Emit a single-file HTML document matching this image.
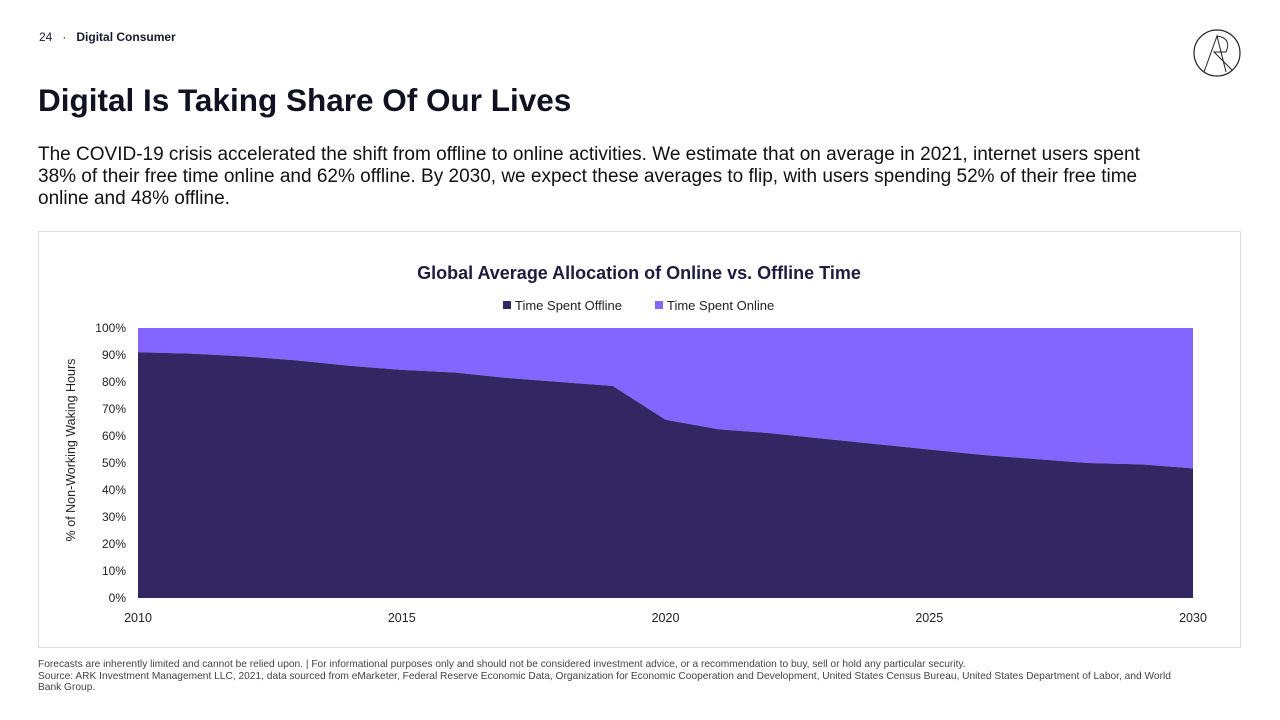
<!DOCTYPE html>
<html><head><meta charset="utf-8"><style>
body{margin:0;width:1280px;height:720px;background:#fff;font-family:"Liberation Sans",sans-serif;color:#1a1a2e;position:relative;overflow:hidden}
.abs{position:absolute}
</style></head><body>
<div class="abs" style="left:39px;top:30px;font-size:12px"><span>24</span><span style="margin:0 10px">·</span><b>Digital Consumer</b></div>
<svg class="abs" style="left:1192px;top:28px" width="50" height="50"><circle cx="25" cy="25" r="23" fill="none" stroke="#222" stroke-width="1.2"/><path d="M12 44 L25 8 L34 44 M25 8 Q40 10 34 24 L22 24 L40 42" fill="none" stroke="#222" stroke-width="1"/></svg>
<div class="abs" style="left:38px;top:82px;font-size:31.5px;font-weight:bold;color:#111122">Digital Is Taking Share Of Our Lives</div>
<div class="abs" style="left:38px;top:144px;width:1135px;font-size:19px;line-height:22px;color:#111">The COVID-19 crisis accelerated the shift from offline to online activities. We estimate that on average in 2021, internet users spent 38% of their free time online and 62% offline. By 2030, we expect these averages to flip, with users spending 52% of their free time online and 48% offline.</div>
<div class="abs" style="left:38px;top:231px;width:1203px;height:417px;border:1px solid #ddd;box-sizing:border-box"></div>
<svg class="abs" id="chart" style="left:0;top:0" width="1280" height="720"></svg>
<div class="abs" style="left:38px;top:659px;width:1210px;font-size:10.2px;line-height:11.5px;color:#444">Forecasts are inherently limited and cannot be relied upon. | For informational purposes only and should not be considered investment advice, or a recommendation to buy, sell or hold any particular security.<br>Source: ARK Investment Management LLC, 2021, data sourced from eMarketer, Federal Reserve Economic Data, Organization for Economic Cooperation and Development, United States Census Bureau, United States Department of Labor, and World<br>Bank Group.</div>
<script>
const years=[2010,2011,2012,2013,2014,2015,2016,2017,2018,2019,2020,2021,2022,2023,2024,2025,2026,2027,2028,2029,2030];
const offline=[91,90.5,89.5,88,86,84.5,83.5,81.5,80,78.5,66,62.5,61,59,57,55,53,51.5,50,49.5,48];
const online=offline.map(v=>100-v);
const yTicks=[0,10,20,30,40,50,60,70,80,90,100];
const xTicks=[2010,2015,2020,2025,2030];
const svg=document.getElementById('chart');const NS='http://www.w3.org/2000/svg';
const X=y=>138+(y-2010)*(1193-138)/20;const Y=p=>598-p*2.7;
function el(t,a,txt){const e=document.createElementNS(NS,t);for(const k in a)e.setAttribute(k,a[k]);if(txt!=null)e.textContent=txt;svg.appendChild(e);return e;}
let onPath='M'+X(2010)+','+Y(100)+' L'+X(2030)+','+Y(100);
for(let i=years.length-1;i>=0;i--)onPath+=' L'+X(years[i])+','+Y(100-online[i]);
const a1=el('path',{d:onPath+'Z',fill:'#8366FF'});


let offPath='M'+X(2010)+','+Y(0);
years.forEach((y,i)=>offPath+=' L'+X(y)+','+Y(offline[i]));
offPath+=' L'+X(2030)+','+Y(0)+'Z';
const a2=el('path',{d:offPath,fill:'#322763'});


yTicks.forEach(t=>{const e=el('text',{x:126,y:Y(t)+4,'text-anchor':'end','font-size':12,fill:'#222'},t+'%');

});
xTicks.forEach(t=>{const e=el('text',{x:X(t),y:622,'text-anchor':'middle','font-size':12.5,fill:'#222'},t);

});
const yt=el('text',{x:0,y:0,transform:'translate(75,450) rotate(-90)','text-anchor':'middle','font-size':12.5,fill:'#222'},'% of Non-Working Waking Hours');


const ct=el('text',{x:639,y:279,'text-anchor':'middle','font-size':18,'font-weight':'bold',fill:'#1e1b3e'},'Global Average Allocation of Online vs. Offline Time');


const l1=el('rect',{x:503,y:301,width:8,height:8,fill:'#322763'});


const l1t=el('text',{x:515,y:310,'font-size':13,fill:'#222'},'Time Spent Offline');


const l2=el('rect',{x:655,y:301,width:8,height:8,fill:'#8366FF'});


const l2t=el('text',{x:667,y:310,'font-size':13,fill:'#222'},'Time Spent Online');


</script>
</body></html>
